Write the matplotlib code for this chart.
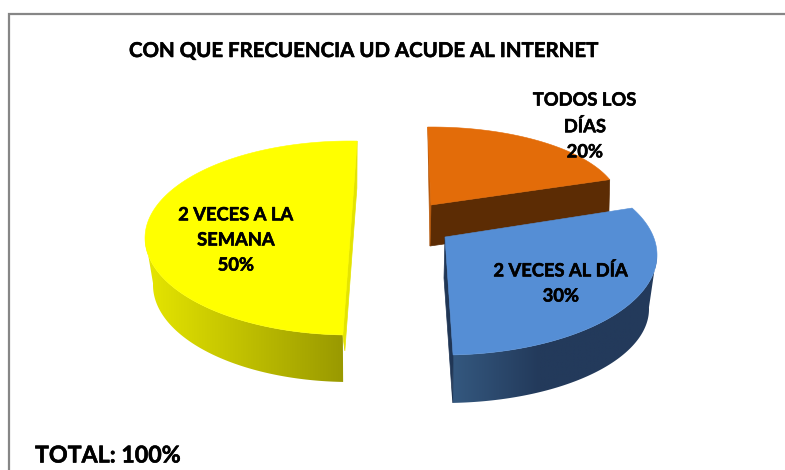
import numpy as np
import matplotlib
matplotlib.use("Agg")
import matplotlib.pyplot as plt
import matplotlib.patheffects as pe
from matplotlib.patches import Polygon
from matplotlib.colors import to_rgb

# ---- data
title = "CON QUE FRECUENCIA UD ACUDE AL INTERNET"
total_label = "TOTAL: 100%"
categories = ["TODOS LOS\nDÍAS", "2 VECES AL DÍA", "2 VECES A LA\nSEMANA"]
values = [20, 30, 50]

# ---- layout (pixel canvas) and style for each slice
W, H = 785, 470
layout = [
    dict(apex=(431, 205), c=(431, 205), r=(189, 78), t0=91, stretch=1.0, depth_c=(431, 245), depth_r=(188, 78),
         top="#e36c09", cut="#5c2c04", sliver="#b9590a", side0="#a04c05", side1="#5c2c04", ramp=1.0,
         sl=(-1, 41), lab=(585, 126)),
    dict(apex=(445, 237), c=(444, 255), r=(213, 100), t0=28, stretch=1.07, depth_c=(444, 309), depth_r=(205, 94),
         top="#558ed5", cut=None, sliver="#203655", side0="#34587f", side1="#233a5b", ramp=0.42,
         sl=(-1, 41), lab=(561, 283)),
    dict(apex=(350, 238), c=(350, 238), r=(205, 97), t0=-92, stretch=1.0, depth_c=(350, 285), depth_r=(197, 97),
         top="#ffff00", cut=None, sliver="#e4e400", side0="#e6e600", side1="#999900", ramp=1.0,
         sl=(2, 16), lab=(236, 240)),
]

fig = plt.figure(figsize=(W / 100, H / 100), dpi=100)
ax = fig.add_axes([0, 0, 1, 1])
ax.set_xlim(0, W)
ax.set_ylim(H, 0)
ax.axis("off")

# frame
ax.plot([8.5, 8.5, W], [H, 13.5, 13.5], color="#868686", lw=1.6, solid_joinstyle="miter", zorder=1)

heavy = [pe.withStroke(linewidth=0.4, foreground="black")]


def rim(c, r, t):
    rad = np.radians(t)
    return np.column_stack([c[0] + r[0] * np.cos(rad), c[1] - r[1] * np.sin(rad)])


total = sum(values)
for z, (val, cat, s) in enumerate(zip(values, categories, layout)):
    z = 2 + z * 10
    span = 360 * val / total * s["stretch"]
    t = np.linspace(s["t0"], s["t0"] - span, 181)
    top = rim(s["c"], s["r"], t)
    low = rim(s["depth_c"], s["depth_r"], t)
    apex = np.array(s["apex"], float)

    # outer wall, shaded along its length (only where the rim faces the viewer)
    idx = np.where(np.sin(np.radians(t)) <= 0.02)[0]
    if idx.size > 1:
        wall = np.vstack([top[idx], low[idx][::-1]])
        x0, x1 = wall[:, 0].min(), wall[:, 0].max()
        y0, y1 = wall[:, 1].min(), wall[:, 1].max()
        c0, c1 = np.array(to_rgb(s["side0"])), np.array(to_rgb(s["side1"]))
        f = np.clip(np.linspace(0, 1, 256) / s["ramp"], 0, 1)[None, :, None]
        grad = c0[None, None, :] + (c1 - c0)[None, None, :] * f
        im = ax.imshow(grad, extent=(x0, x1, y1, y0), aspect="auto", interpolation="bilinear", zorder=z)
        clip = Polygon(wall, closed=True, transform=ax.transData, fc="none", ec="none")
        ax.add_patch(clip)
        im.set_clip_path(clip)

    sl = np.array(s["sl"], float)
    if s["cut"]:  # cut face behind the rim end
        ax.add_patch(Polygon([apex, top[-1], top[-1] + sl, apex + sl], closed=True, fc=s["cut"], ec=s["cut"], lw=0.5, zorder=z + 1))
        ax.add_patch(Polygon([top[0], apex, apex + sl], closed=True, fc=s["sliver"], ec=s["sliver"], lw=0.5, zorder=z + 1))
    elif s["top"] == "#ffff00":
        ax.add_patch(Polygon([top[0], top[0] + sl, low[-1], top[-1]], closed=True, fc=s["sliver"], ec=s["sliver"], lw=0.5, zorder=z + 1))
    else:
        ax.add_patch(Polygon([apex, top[-1], low[-1], apex + sl], closed=True, fc=s["sliver"], ec=s["sliver"], lw=0.5, zorder=z + 1))

    # top face
    ax.add_patch(Polygon(np.vstack([apex, top]), closed=True, fc=s["top"], ec=s["top"], lw=0.4, zorder=z + 2))

    ax.text(s["lab"][0], s["lab"][1], f"{cat}\n{val}%", ha="center", va="center", family="Lato",
            fontweight="bold", fontsize=13.2, linespacing=1.58, color="black", zorder=50, path_effects=heavy)

ax.set_xlim(0, W)
ax.set_ylim(H, 0)
ax.text(129, 51, title, ha="left", va="center", family="Lato", fontweight="bold", fontsize=14.7, color="black", zorder=50, path_effects=heavy)
ax.text(35, 456, total_label, ha="left", va="center", family="Lato", fontweight="bold", fontsize=16.7, color="black", zorder=50, path_effects=heavy)

fig.savefig("out.png", dpi=100, facecolor="white")
